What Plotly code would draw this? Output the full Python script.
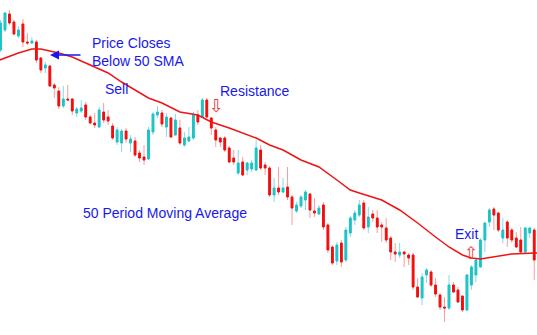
import plotly.graph_objects as go

# ---- data (price units) ----
opens = [285,305,321,313,299,311,293,292,293,277,267,269,250,244,229,236,236,222,224,230,
         218,212,208,223,218,209,193,192,204,192,194,182,178,176,203,220,222,208,217,200,
         207,190,194,197,220,218,235,217,205,197,197,187,177,162,173,165,166,165,185,170,
         167,140,147,143,148,138,124,129,135,141,124,121,130,110,88,74,92,75,102,115,
         120,132,108,121,117,110,107,97,83,80,83,80,80,48,37,60,63,50,40,28,
         27,50,45,39,25,50,60,68,95,113,126,122,97,113,105,97,95,83,102,105]
highs = [315,323,325,315,309,316,302,298,295,278,273,270,252,248,249,250,237,228,235,233,
         220,222,228,232,225,212,208,206,207,200,198,185,190,208,223,229,225,222,218,221,
         215,203,208,223,225,237,237,218,208,198,199,189,185,185,178,173,175,195,190,173,
         169,157,168,157,168,140,133,140,145,142,137,130,133,112,90,93,95,108,119,125,
         135,135,128,125,125,113,117,99,92,92,83,82,82,57,62,67,65,57,42,38,
         60,53,48,39,61,70,77,97,113,127,128,123,117,115,107,103,108,108,108,107]
lows = [283,303,310,300,297,288,290,291,272,262,262,248,237,226,227,234,220,218,222,215,
        211,207,207,212,210,195,190,183,192,183,178,173,170,175,200,217,208,198,197,200,
        190,188,193,195,210,217,217,200,188,188,183,172,170,160,159,160,163,164,165,160,
        138,133,140,142,135,110,122,127,125,117,118,120,105,82,70,70,68,73,98,110,
        118,105,102,113,102,93,92,75,73,77,68,70,45,37,30,52,48,38,25,13,
        25,42,32,23,24,45,53,67,83,108,105,103,92,88,92,87,82,82,97,55]
closes = [312,322,312,301,305,293,292,294,275,265,270,249,247,229,236,235,224,226,227,218,
          212,210,225,215,214,197,205,204,196,196,180,177,175,205,221,223,211,218,198,215,
          192,197,198,220,213,235,218,207,195,193,185,173,173,172,160,172,172,187,167,167,
          140,147,143,147,138,127,130,138,143,125,122,127,108,85,72,90,73,105,117,122,
          130,107,118,117,108,108,95,83,81,83,81,77,48,38,58,65,50,41,28,27,
          50,43,33,25,60,68,75,95,112,125,120,105,105,97,95,88,83,107,107,75]
idx = list(range(len(opens)))

# 50-period moving average, read at sampled candle positions
ma_idx = [-0.2, 4, 7, 9, 13, 16, 20, 24, 27, 31, 33, 36, 40, 44, 47, 51, 55, 57, 60, 63,
          67, 71, 75, 78, 80, 85, 89, 93, 97, 100, 103, 105, 107, 111, 114, 119, 119.7]
ma_val = [275, 282, 286, 286, 282, 278, 270, 262, 253, 242, 237, 232, 223, 220, 213, 207, 200, 197, 190, 185,
          175, 168, 155, 145, 142, 135, 125, 112, 98, 88, 80, 77, 76, 79, 81, 82, 82]

UP, DN = "#1cc4c4", "#f40d0d"
UP_W, DN_W = "#7fdcf0", "#ff9a9a"
BLUE = "#1818ee"
FONT = "Liberation Sans, Arial, sans-serif"

body_hi = [max(o, c) for o, c in zip(opens, closes)]
body_lo = [min(o, c) for o, c in zip(opens, closes)]

fig = go.Figure()
# wicks (lighter)
fig.add_trace(go.Candlestick(
    x=idx, open=opens, high=highs, low=lows, close=closes,
    increasing=dict(line=dict(color=UP_W, width=1), fillcolor=UP_W),
    decreasing=dict(line=dict(color=DN_W, width=1), fillcolor=DN_W),
    hoverinfo="skip", showlegend=False))
# bodies
fig.add_trace(go.Candlestick(
    x=idx, open=opens, high=body_hi, low=body_lo, close=closes,
    increasing=dict(line=dict(color=UP, width=1), fillcolor=UP),
    decreasing=dict(line=dict(color=DN, width=1), fillcolor=DN),
    hoverinfo="skip", showlegend=False))
# moving average
fig.add_trace(go.Scatter(x=ma_idx, y=ma_val, mode="lines",
                         line=dict(color="#ee1414", width=1.5),
                         hoverinfo="skip", showlegend=False))

W, H = 537, 335
def px(x):
    return x / W
def py(y):
    return 1 - y / H

ann = [
    dict(text="Price Closes<br>Below 50 SMA", x=px(91), y=py(52), xanchor="left", yanchor="middle",
         align="left", font=dict(size=14, color=BLUE, family=FONT)),
    dict(text="Sell", x=px(116), y=py(89), font=dict(size=14, color=BLUE, family=FONT)),
    dict(text="Resistance", x=px(254), y=py(91), font=dict(size=14, color=BLUE, family=FONT)),
    dict(text="50 Period Moving Average", x=px(165), y=py(213), font=dict(size=14, color=BLUE, family=FONT)),
    dict(text="Exit", x=px(466), y=py(234), font=dict(size=14, color=BLUE, family=FONT)),
    dict(text="⇩", x=px(216.5), y=py(106), font=dict(size=18, color="#f03a3a", family="DejaVu Sans")),
    dict(text="⇧", x=px(471), y=py(253), font=dict(size=17, color="#f03a3a", family="DejaVu Sans")),
]
for a in ann:
    a.setdefault("xanchor", "center")
    a.setdefault("yanchor", "middle")
    a.update(xref="paper", yref="paper", showarrow=False, borderpad=0)
ann.append(dict(x=px(50), y=py(55), xref="paper", yref="paper", ax=32, ay=0, text="",
                showarrow=True, arrowhead=2, arrowsize=1.2, arrowwidth=1.5, arrowcolor=BLUE))

fig.update_layout(
    width=W, height=H, margin=dict(l=0, r=0, t=0, b=0),
    paper_bgcolor="white", plot_bgcolor="white",
    xaxis=dict(range=[-0.111, 119.62], visible=False, rangeslider=dict(visible=False)),
    yaxis=dict(range=[0, 335], visible=False),
    boxgap=0.45, annotations=ann, hovermode=False,
)
fig.write_html("out.html")
